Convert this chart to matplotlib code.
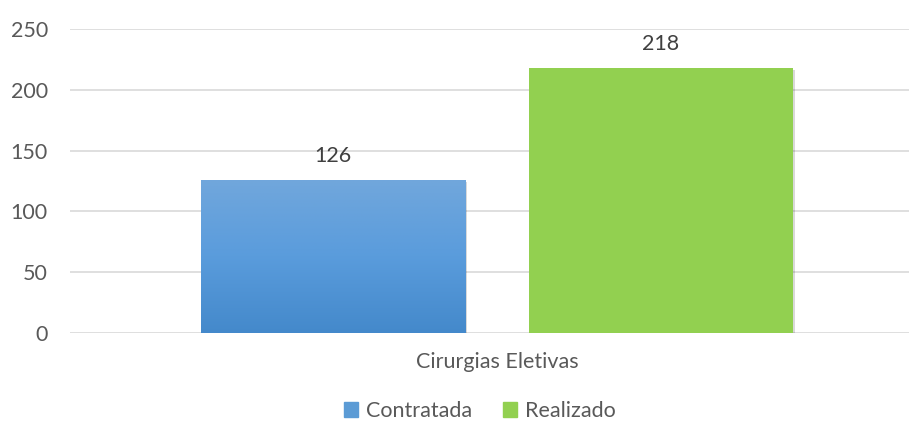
import matplotlib
matplotlib.use("Agg")
import matplotlib.pyplot as plt
import numpy as np
from matplotlib import patheffects as pe
from matplotlib.patches import Patch
from matplotlib.colors import LinearSegmentedColormap

plt.rcParams['font.family'] = ['Lato', 'DejaVu Sans']

category = ["Cirurgias Eletivas"]
series_names = ["Contratada", "Realizado"]
values = [126, 218]
yticks = [0, 50, 100, 150, 200, 250]

W, H = 909, 423
fig = plt.figure(figsize=(W / 100, H / 100), dpi=100)
left, right = 70, 924
top, bottom = 29, 333
ax = fig.add_axes([left / W, 1 - bottom / H, (right - left) / W, (bottom - top) / H])

FS = 15.5
ax.set_xlim(-0.5, 0.5)
ax.set_ylim(0, 250)
ax.set_yticks(yticks)
for y in yticks:
    ax.axhline(y, color="#D9D9D9", lw=1.2, zorder=0)
for s in ax.spines.values():
    s.set_visible(False)
ax.tick_params(axis="both", length=0, labelsize=FS, colors="#595959", labelcolor="#595959")
ax.tick_params(axis="y", pad=16)
ax.tick_params(axis="x", pad=14)
ax.set_xticks([0])
ax.set_xticklabels(category)

width = 0.31
offsets = [-0.192, 0.192]
shadow = [pe.SimplePatchShadow(offset=(1.5, -1.5), shadow_rgbFace="#000000", alpha=0.15), pe.Normal()]

# Blue gradient bar
b1 = ax.bar(offsets[0], values[0], width=width, color="#5B9BD5", zorder=2, path_effects=shadow)[0]
grad = np.linspace(0, 1, 256).reshape(-1, 1)
cmap = LinearSegmentedColormap.from_list("bg", ["#4489CB", "#5A9CDC", "#71A7DC"])
im = ax.imshow(grad, cmap=cmap, origin="lower", aspect="auto",
               extent=[offsets[0] - width / 2, offsets[0] + width / 2, 0, values[0]], zorder=3)
im.set_clip_path(b1)
ax.set_xlim(-0.5, 0.5)
ax.set_ylim(0, 250)

b2 = ax.bar(offsets[1], values[1], width=width, color="#92D050", zorder=2, path_effects=shadow)[0]

for x, v in zip(offsets, values):
    ax.annotate(str(v), (x, v), xytext=(0, 10), textcoords="offset points",
                ha="center", va="bottom", fontsize=FS, color="#404040")

handles = [Patch(color="#5B9BD5", label=series_names[0]), Patch(color="#92D050", label=series_names[1])]
fig.legend(handles=handles, loc="center", bbox_to_anchor=(480 / W, 1 - 411 / H), ncol=2,
           frameon=False, fontsize=FS, labelcolor="#595959", handlelength=0.65, handleheight=0.65,
           columnspacing=1.4, handletextpad=0.4, borderpad=0)

fig.savefig("out.png", dpi=100)
